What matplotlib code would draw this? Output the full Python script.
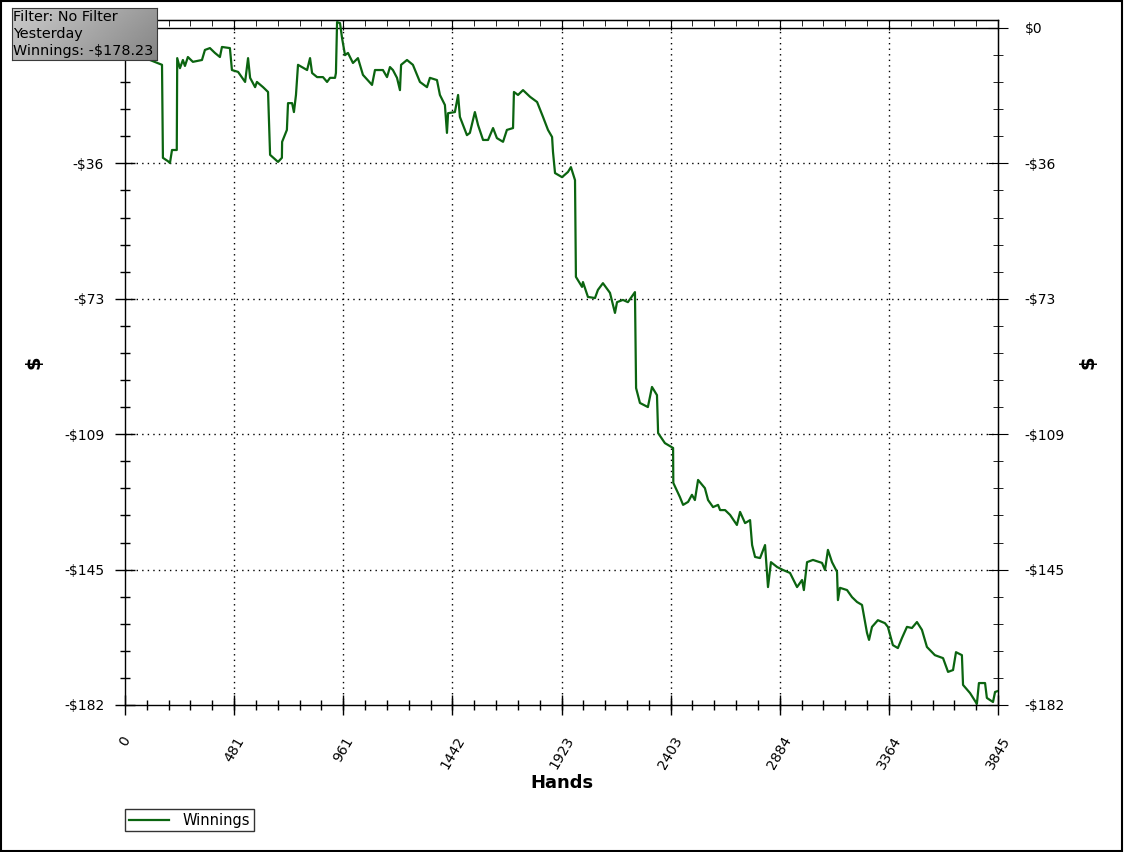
import matplotlib
matplotlib.use("Agg")
import matplotlib.pyplot as plt
import numpy as np
from matplotlib.patches import Rectangle

# Data: cumulative winnings by hand
hands = [0, 44, 110, 163, 167, 189, 198, 207, 228, 230, 242, 255, 264, 277, 299, 339,
         352, 374, 396, 418, 427, 462, 471, 498, 529, 542, 551, 573, 581, 608, 630,
         639, 674, 691, 692, 713, 718, 736, 744, 753, 762, 802, 815, 824, 846, 872,
         890, 903, 925, 929, 934, 947, 956, 969, 982, 1004, 1026, 1048, 1088, 1101,
         1136, 1154, 1167, 1180, 1198, 1211, 1216, 1242, 1268, 1299, 1330, 1343,
         1374, 1387, 1409, 1418, 1423, 1453, 1467, 1475, 1506, 1519, 1541, 1555,
         1577, 1599, 1621, 1638, 1665, 1682, 1709, 1713, 1731, 1753, 1784, 1815,
         1841, 1863, 1881, 1885, 1894, 1925, 1951, 1964, 1982, 1986, 2013, 2017,
         2039, 2070, 2083, 2105, 2136, 2158, 2167, 2193, 2215, 2246, 2251, 2268,
         2303, 2321, 2343, 2348, 2378, 2414, 2415, 2444, 2458, 2480, 2497, 2510,
         2524, 2554, 2568, 2590, 2612, 2621, 2643, 2665, 2695, 2709, 2731, 2753,
         2762, 2775, 2797, 2819, 2832, 2845, 2872, 2898, 2929, 2960, 2982, 2990,
         3004, 3030, 3070, 3083, 3096, 3114, 3136, 3140, 3149, 3180, 3202, 3224,
         3246, 3268, 3277, 3290, 3316, 3347, 3360, 3382, 3404, 3422, 3444, 3466,
         3488, 3510, 3532, 3567, 3603, 3625, 3647, 3660, 3686, 3691, 3722, 3752,
         3761, 3788, 3796, 3823, 3832, 3845]
winnings = [0, -5.9, -8.6, -9.9, -34.9, -35.8, -36.3, -32.8, -32.8, -8.1, -10.8, -8.6,
            -10.2, -7.8, -9.1, -8.6, -5.9, -5.4, -6.7, -7.8, -5.1, -5.4, -11.3, -11.8,
            -14.5, -8.1, -13.4, -15.9, -14.5, -15.9, -17.2, -34.1, -36.0, -34.9, -30.6,
            -27.4, -20.2, -20.2, -22.6, -18.0, -9.9, -11.3, -8.1, -12.1, -13.2, -13.2,
            -14.5, -13.4, -13.4, -12.1, 1.6, 1.3, -2.7, -7.3, -6.7, -9.4, -8.1, -12.6,
            -15.3, -11.3, -11.3, -13.2, -10.5, -11.3, -13.4, -16.7, -9.9, -8.6, -9.9,
            -14.5, -15.9, -13.4, -14.0, -18.0, -20.7, -28.2, -22.9, -22.6, -18.0,
            -23.9, -28.8, -28.2, -22.6, -26.1, -30.1, -30.1, -26.9, -29.6, -30.6,
            -27.4, -26.9, -17.2, -18.0, -16.7, -18.5, -19.9, -23.9, -27.4, -29.3,
            -33.3, -39.0, -40.1, -38.7, -37.4, -40.9, -66.9, -69.6, -68.3, -72.3,
            -72.6, -70.4, -68.6, -71.2, -76.6, -73.7, -73.1, -73.7, -71.0, -96.8,
            -100.8, -101.9, -96.5, -98.7, -108.9, -111.6, -112.9, -122.3, -126.1,
            -128.2, -127.4, -125.5, -126.9, -121.5, -123.7, -126.9, -128.8, -128.2,
            -129.6, -129.6, -130.9, -133.6, -130.1, -133.1, -132.3, -139.0, -142.2,
            -142.5, -139.0, -150.3, -143.6, -144.9, -145.7, -146.5, -150.3, -148.4,
            -151.1, -143.6, -143.0, -143.8, -145.7, -140.3, -143.6, -146.2, -153.8,
            -150.5, -151.1, -153.0, -154.3, -155.1, -162.6, -164.5, -161.0, -159.2,
            -160.0, -161.0, -165.9, -166.7, -164.0, -161.0, -161.3, -159.7, -161.8,
            -166.4, -168.6, -169.4, -173.1, -172.6, -167.8, -168.6, -176.6, -178.8,
            -181.7, -176.1, -176.1, -180.1, -181.2, -178.5, -178.23]

x_ticks = [0, 481, 961, 1442, 1923, 2403, 2884, 3364, 3845]
y_ticks = [0, -36.4, -72.8, -109.2, -145.6, -182]
y_labels = ['$0', '-$36', '-$73', '-$109', '-$145', '-$182']
info_lines = ['Filter: No Filter', 'Yesterday', 'Winnings: -$178.23']

W, H = 1124, 852
fig = plt.figure(figsize=(W / 100, H / 100), dpi=100)
ax = fig.add_axes([125 / W, 1 - 705 / H, 873 / W, 685 / H])

line, = ax.plot(hands, winnings, color='#0b6410', lw=1.6, label='Winnings', zorder=3)

ax.set_xlim(0, 3845)
ax.set_ylim(-182, 2.15)
ax.axhline(0, color='black', lw=1, zorder=2)

# grid
dot = (0, (1, 3))
for xv in x_ticks[1:-1]:
    ax.axvline(xv, color='black', lw=1, ls=dot, zorder=1)
for yv in y_ticks[1:-1]:
    ax.axhline(yv, color='black', lw=1, ls=dot, zorder=1)

ax.set_xticks(x_ticks)
ax.set_xticklabels([str(v) for v in x_ticks], rotation=60, ha='center', va='top')
ax.set_xticks(np.linspace(0, 3845, 41), minor=True)
ax.set_yticks(y_ticks)
ax.set_yticklabels(y_labels)
ax.set_yticks(np.linspace(-182, 0, 26), minor=True)
ax.tick_params(which='major', direction='inout', length=14, width=1, labelsize=10, pad=2)
ax.tick_params(which='minor', direction='inout', length=7, width=1)
ax.tick_params(axis='x', which='major', pad=14)
ax.tick_params(axis='y', which='major', pad=8)

top = ax.secondary_xaxis('top')
top.set_xticks(x_ticks)
top.set_xticks(np.linspace(0, 3845, 41), minor=True)
top.tick_params(which='major', direction='in', length=7, labeltop=False)
top.tick_params(which='minor', direction='in', length=4)

right = ax.secondary_yaxis('right')
right.set_yticks(y_ticks)
right.set_yticklabels(y_labels)
right.set_yticks(np.linspace(-182, 0, 26), minor=True)
right.tick_params(which='major', direction='inout', length=14, labelsize=10, pad=12)
right.tick_params(which='minor', direction='inout', length=7)

for sp in ax.spines.values():
    sp.set_linewidth(1)

ax.set_xlabel('Hands', fontsize=13, fontweight='bold', labelpad=2)
fig.text(34 / W, 1 - 362 / H, '$', fontsize=14, fontweight='bold', rotation=90,
         ha='center', va='center')
fig.text(1088 / W, 1 - 362 / H, '$', fontsize=14, fontweight='bold', rotation=90,
         ha='center', va='center')

# legend below the plot
fig.legend(handles=[line], loc='upper left', bbox_to_anchor=(125 / W, 1 - 809 / H),
           frameon=True, fancybox=False, edgecolor='black', fontsize=10.5,
           handlelength=2.8, borderpad=0.25, handletextpad=0.9, borderaxespad=0)

# info box top-left with grey gradient
box = fig.add_axes([12 / W, 1 - 60 / H, 145 / W, 52 / H])
gx = np.linspace(0.80, 0.60, 200)[None, :]
gy = np.linspace(0.0, 0.08, 50)[:, None]
box.imshow(gx - gy, cmap='gray', vmin=0, vmax=1, aspect='auto', extent=[0, 1, 0, 1])
box.set_xlim(0, 1)
box.set_ylim(0, 1)
box.set_xticks([])
box.set_yticks([])
for sp in box.spines.values():
    sp.set_color('#3a3a3a')
for i, t in enumerate(info_lines):
    box.text(0.01, 0.83 - i * 0.33, t, fontsize=10.4, va='center', ha='left', color='black')

# outer frame
fig.patches.append(Rectangle((0.001, 0.001), 0.997, 0.998, transform=fig.transFigure,
                             fill=False, edgecolor='black', lw=1.5))

fig.savefig('out.png', dpi=100)
